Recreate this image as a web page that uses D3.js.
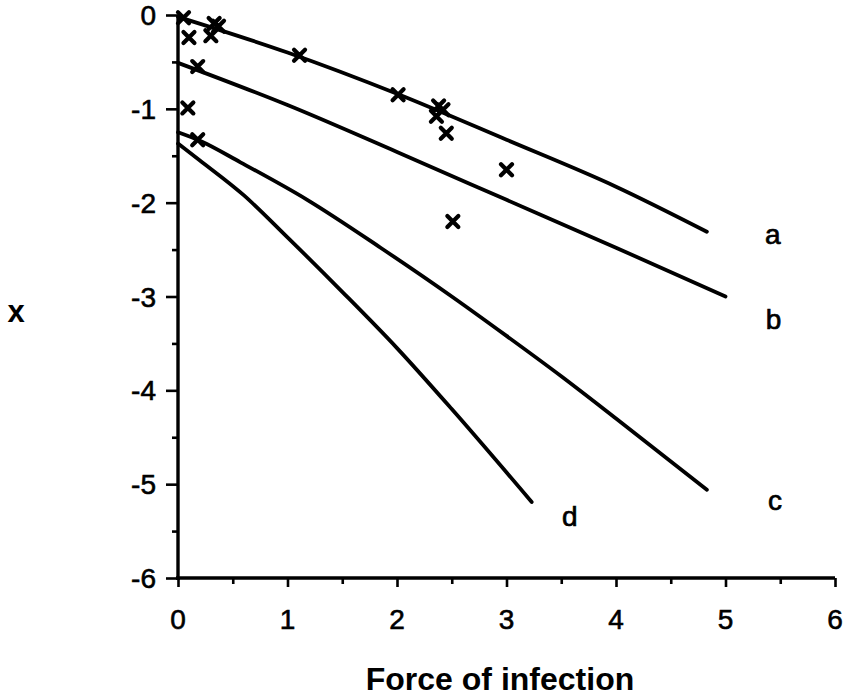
<!DOCTYPE html>
<html>
<head>
<meta charset="utf-8">
<script src="https://cdn.jsdelivr.net/npm/d3@7"></script>
<style>
	body { margin: 0; background: #fff; }
	svg { display: block; }
	text { font-family: "Liberation Sans", Arial, Helvetica, sans-serif; fill: #000; }
</style>
</head>
<body>
<script>
// Curves, one array per curve: [force of infection, x].
var curveA = [[0, -0.02], [1, -0.40], [2, -0.84], [3, -1.33], [4, -1.83], [4.83, -2.31]];
var curveB = [[0, -0.51], [1, -0.96], [2, -1.46], [3, -1.97], [4, -2.48], [5, -3.0]];
var curveC = [[0, -1.25], [0.2, -1.34], [0.57, -1.57], [1.18, -1.97], [1.85, -2.48], [2.5, -3.0], [3, -3.42], [3.5, -3.85], [4, -4.3], [4.83, -5.06]];
var curveD = [[0, -1.37], [0.2, -1.55], [0.6, -1.92], [1, -2.37], [1.5, -2.95], [2, -3.55], [2.5, -4.2], [3.23, -5.19]];
var curveNames = ['a', 'b', 'c', 'd'];

// Observed points (the crosses).
var obsX = [0.05, 0.10, 0.30, 0.37, 0.33, 1.11, 2.01, 2.38, 2.42, 2.36, 2.45, 0.18, 0.09, 0.18, 3.0, 2.51];
var obsY = [-0.03, -0.24, -0.22, -0.12, -0.09, -0.43, -0.85, -0.97, -1.01, -1.08, -1.26, -0.55, -0.99, -1.33, -1.65, -2.2];

var xTicks = [0, 1, 2, 3, 4, 5, 6];
var yTicks = [0, -1, -2, -3, -4, -5, -6];

var width = 843, height = 699;
var svg = d3.select('body').append('svg')
	.attr('width', width)
	.attr('height', height);

var x = d3.scaleLinear().domain([0, 6]).range([178, 835]);
var y = d3.scaleLinear().domain([0, -6]).range([15, 578]);

var curves = [curveA, curveB, curveC, curveD];
var line = d3.line()
	.curve(d3.curveMonotoneX)
	.x(function(d) { return x(d[0]); })
	.y(function(d) { return y(d[1]); });

svg.selectAll('path.curve')
	.data(curves)
	.enter().append('path')
	.attr('class', 'curve')
	.attr('d', line)
	.attr('fill', 'none')
	.attr('stroke', '#000')
	.attr('stroke-width', 3.8)
	.attr('stroke-linecap', 'round')
	.attr('stroke-linejoin', 'round');

// Curve labels sit a little past the end of each curve.
var labelOffsets = [[66, 12], [48, 32], [68, 20], [38, 24]];
svg.selectAll('text.curve-label')
	.data(curves)
	.enter().append('text')
	.attr('class', 'curve-label')
	.attr('x', function(d, i) { return x(d[d.length - 1][0]) + labelOffsets[i][0]; })
	.attr('y', function(d, i) { return y(d[d.length - 1][1]) + labelOffsets[i][1]; })
	.attr('text-anchor', 'middle')
	.attr('font-size', 28)
	.attr('stroke', '#000')
	.attr('stroke-width', 0.7)
	.text(function(d, i) { return curveNames[i]; });

// Axes: minor ticks every half unit, pointing outwards.
var yAxis = d3.axisLeft(y)
	.tickValues(d3.range(0, -6.01, -0.5))
	.tickSize(0)
	.tickFormat('');
var gy = svg.append('g').attr('transform', 'translate(' + x(0) + ',0)').call(yAxis);
gy.select('.domain').remove();
gy.selectAll('.tick line')
	.attr('x2', function(d) { return Number.isInteger(d) ? -12 : -6; })
	.attr('stroke', '#000')
	.attr('stroke-width', 2.6);

var xAxis = d3.axisBottom(x)
	.tickValues(d3.range(0, 6.01, 0.5))
	.tickSize(0)
	.tickFormat('');
var gx = svg.append('g').attr('transform', 'translate(0,' + y(-6) + ')').call(xAxis);
gx.select('.domain').remove();
gx.selectAll('.tick line')
	.attr('y2', function(d) { return Number.isInteger(d) ? 9 : 6; })
	.attr('stroke', '#000')
	.attr('stroke-width', 2.6);

svg.append('line')
	.attr('x1', x(0)).attr('x2', x(0))
	.attr('y1', y(0)).attr('y2', y(-6) + 2)
	.attr('stroke', '#000').attr('stroke-width', 3.4);
svg.append('line')
	.attr('x1', x(0) - 2).attr('x2', x(6))
	.attr('y1', y(-6)).attr('y2', y(-6))
	.attr('stroke', '#000').attr('stroke-width', 3.4);

svg.selectAll('text.ytick')
	.data(yTicks)
	.enter().append('text')
	.attr('class', 'ytick')
	.attr('x', x(0) - 22)
	.attr('y', function(d) { return y(d) + 10; })
	.attr('text-anchor', 'end')
	.attr('font-size', 28)
	.attr('stroke', '#000')
	.attr('stroke-width', 0.6)
	.text(function(d) { return d; });

svg.selectAll('text.xtick')
	.data(xTicks)
	.enter().append('text')
	.attr('class', 'xtick')
	.attr('x', function(d) { return x(d); })
	.attr('y', y(-6) + 51)
	.attr('text-anchor', 'middle')
	.attr('font-size', 28)
	.attr('stroke', '#000')
	.attr('stroke-width', 0.6)
	.text(function(d) { return d; });

svg.append('text')
	.attr('x', 500)
	.attr('y', 690)
	.attr('text-anchor', 'middle')
	.attr('font-size', 32)
	.attr('font-weight', 'bold')
	.text('Force of infection');

svg.append('text')
	.attr('x', 16)
	.attr('y', 322)
	.attr('text-anchor', 'middle')
	.attr('font-size', 31)
	.attr('font-weight', 'bold')
	.text('x');

// Crosses for the observed points.
var obs = obsX.map(function(v, i) { return [v, obsY[i]]; });
var s = 5.5;
svg.selectAll('path.obs')
	.data(obs)
	.enter().append('path')
	.attr('class', 'obs')
	.attr('d', function(d) {
		var cx = x(d[0]), cy = y(d[1]);
		return 'M' + (cx - s) + ' ' + (cy - s) + 'L' + (cx + s) + ' ' + (cy + s) +
			'M' + (cx - s) + ' ' + (cy + s) + 'L' + (cx + s) + ' ' + (cy - s);
	})
	.attr('stroke', '#000')
	.attr('stroke-width', 4.2)
	.attr('stroke-linecap', 'round');
</script>
</body>
</html>
